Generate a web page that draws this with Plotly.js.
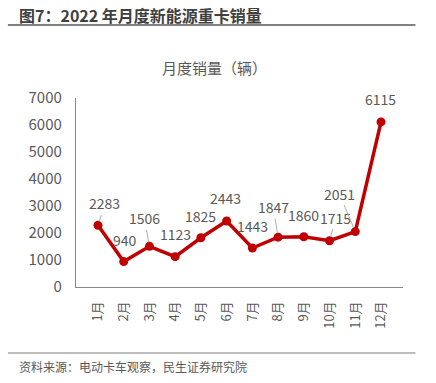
<!DOCTYPE html>
<html><head><meta charset="utf-8">
<script src="https://cdn.plot.ly/plotly-3.0.1.min.js"></script>
<style>html,body{margin:0;padding:0;background:#fff}#chart{width:436px;height:383px}</style>
</head><body><div id="chart"></div>
<script>
const months = ["1月","2月","3月","4月","5月","6月","7月","8月","9月","10月","11月","12月"];
const sales = [2283, 940, 1506, 1123, 1825, 2443, 1443, 1847, 1860, 1715, 2051, 6115];
const labelDx = [7, 1, -5, 0, 0, -1, 0, -5, 0, 6, -16, -1];
const labelDy = [-22, -22, -28, -23, -22, -23, -22, -30, -22, -23, -38, -23];
const leader = [true, false, true, false, false, false, false, true, false, true, true, false];

const W = 436, H = 383;
const L = 76, R = 402.6, T = 98, B = 287;
const px = x => (x - L) / (R - L);
const py = y => (B - y) / (B - T);
const FONT = '"Noto Sans CJK SC", "Noto Sans", sans-serif';

const annotations = sales.map((v, i) => ({
  x: months[i], y: v, xref: 'x', yref: 'y',
  text: String(v), showarrow: leader[i],
  ax: labelDx[i], ay: labelDy[i], axref: 'pixel', ayref: 'pixel',
  xshift: leader[i] ? 0 : labelDx[i], yshift: leader[i] ? 0 : -labelDy[i],
  arrowhead: 0, arrowwidth: 0.9, arrowcolor: '#a6a6a6', standoff: 4,
  font: {family: FONT, size: 14, color: '#595959'}
}));
annotations.push(
  {xref: 'paper', yref: 'paper', x: px(17), y: py(15), xanchor: 'left', yanchor: 'middle',
   text: '<b>图7：2022 年月度新能源重卡销量</b>', showarrow: false,
   font: {family: FONT, size: 16, color: '#404040'}},
  {xref: 'paper', yref: 'paper', x: px(214), y: py(67), xanchor: 'center', yanchor: 'middle',
   text: '月度销量（辆）', showarrow: false,
   font: {family: FONT, size: 15, color: '#595959'}},
  {xref: 'paper', yref: 'paper', x: px(17), y: py(366), xanchor: 'left', yanchor: 'middle',
   text: '资料来源：电动卡车观察，民生证券研究院', showarrow: false,
   font: {family: FONT, size: 12, color: '#595959'}}
);

const shapes = [
  {type: 'line', xref: 'paper', yref: 'paper', x0: px(8), x1: px(415), y0: py(25), y1: py(25),
   line: {color: '#595959', width: 1.5}},
  {type: 'line', xref: 'paper', yref: 'paper', x0: px(8), x1: px(415), y0: py(353), y1: py(353),
   line: {color: '#7f7f7f', width: 1.2}}
];

const trace = {
  x: months, y: sales, type: 'scatter', mode: 'lines+markers',
  line: {color: '#c00000', width: 3.5},
  marker: {color: '#c00000', size: 9},
  hoverinfo: 'skip'
};

const layout = {
  width: W, height: H,
  margin: {l: L, r: W - R, t: T, b: H - B},
  paper_bgcolor: '#fff', plot_bgcolor: '#fff',
  showlegend: false,
  font: {family: FONT, color: '#595959'},
  xaxis: {
    type: 'category', showgrid: false, zeroline: false,
    showline: true, linecolor: '#898989', linewidth: 1.2,
    ticks: '', tickangle: -90, tickfont: {family: FONT, size: 13, color: '#595959'},
    ticklabelstandoff: 8
  },
  yaxis: {
    range: [0, 7000], dtick: 1000, showgrid: false, zeroline: false,
    showline: true, linecolor: '#898989', linewidth: 1.2,
    ticks: '', tickfont: {family: FONT, size: 15, color: '#595959'},
    ticklabelstandoff: 10
  },
  annotations: annotations,
  shapes: shapes
};

Plotly.newPlot('chart', [trace], layout, {displayModeBar: false, staticPlot: true});
</script></body></html>
